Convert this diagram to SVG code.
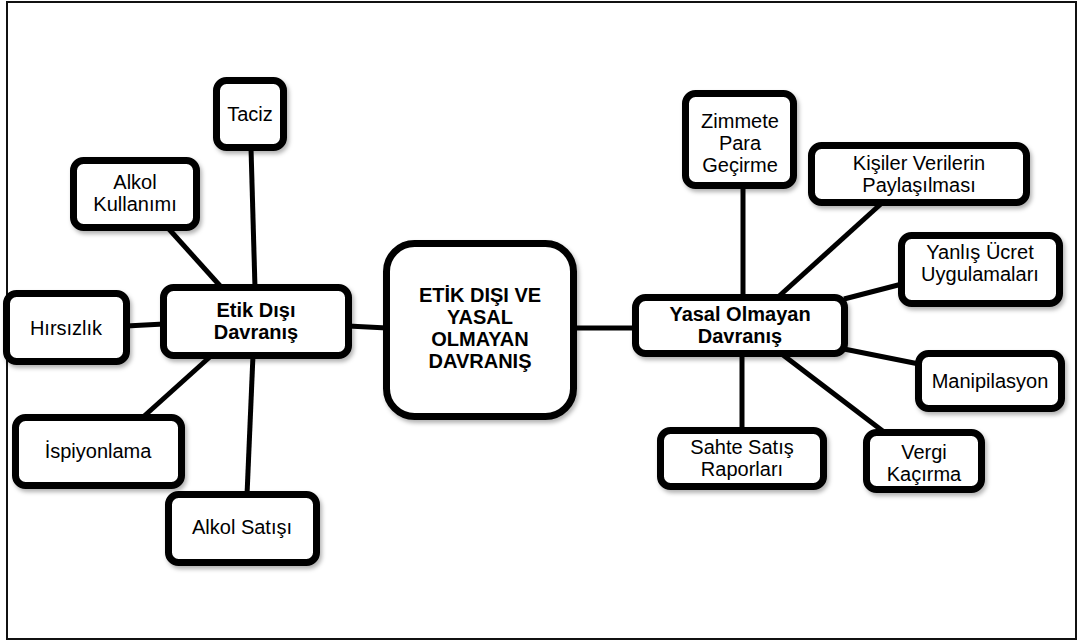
<svg xmlns="http://www.w3.org/2000/svg" width="1079" height="640" viewBox="0 0 1079 640">
  <defs>
    <filter id="sh" x="-20%" y="-20%" width="140%" height="140%">
      <feDropShadow dx="2" dy="3" stdDeviation="2" flood-color="#000" flood-opacity="0.3"/>
    </filter>
    <style>
      .box { fill: #fff; stroke: #000; stroke-width: 7; filter: url(#sh); }
      .conn line { stroke: #000; stroke-width: 5; stroke-linecap: butt; }
      text { font-family: "Liberation Sans", Arial, sans-serif; font-size: 20px; fill: #000; text-anchor: middle; }
      .b { font-weight: bold; }
    </style>
  </defs>
  <rect x="0" y="0" width="1079" height="640" fill="#fff"/>
  <rect x="7" y="2" width="1069" height="637" fill="none" stroke="#111" stroke-width="2"/>

  <g id="connectors" class="conn">
    <line x1="251" y1="148" x2="255" y2="288"/>
    <line x1="168" y1="228" x2="222" y2="288"/>
    <line x1="126" y1="326" x2="164" y2="324"/>
    <line x1="348" y1="326" x2="387" y2="328"/>
    <line x1="212" y1="355" x2="142" y2="418"/>
    <line x1="253" y1="355" x2="247" y2="495"/>
    <line x1="573" y1="328" x2="636" y2="328"/>
    <line x1="743" y1="186" x2="743" y2="298"/>
    <line x1="883" y1="202" x2="777" y2="298"/>
    <line x1="902" y1="284" x2="844" y2="299"/>
    <line x1="844" y1="349" x2="919" y2="364"/>
    <line x1="742" y1="353" x2="742" y2="431"/>
    <line x1="783" y1="355" x2="884" y2="432"/>
  </g>

  <g id="n-taciz"><rect class="box" x="216.5" y="80.5" width="67" height="67" rx="10"/><text x="250" y="121">Taciz</text></g>
  <g id="n-alkol-kullanimi"><rect class="box" x="73.5" y="160.5" width="123" height="67" rx="10"/><text x="135" y="189">Alkol</text><text x="135" y="211">Kullanımı</text></g>
  <g id="n-hirsizlik"><rect class="box" x="6.5" y="293.5" width="120" height="68" rx="10"/><text x="66" y="335">Hırsızlık</text></g>
  <g id="n-etik"><rect class="box" x="163.5" y="287.5" width="185" height="68" rx="10"/><text class="b" x="256" y="317">Etik Dışı</text><text class="b" x="256" y="339">Davranış</text></g>
  <g id="n-center"><rect class="box" x="386.5" y="243.5" width="187" height="173" rx="28"/><text class="b" x="480" y="301.5">ETİK DIŞI VE</text><text class="b" x="480" y="323.5">YASAL</text><text class="b" x="480" y="345.5">OLMAYAN</text><text class="b" x="480" y="367.5">DAVRANIŞ</text></g>
  <g id="n-ispiyonlama"><rect class="box" x="15.5" y="417.5" width="166" height="68" rx="10"/><text x="98" y="458">İspiyonlama</text></g>
  <g id="n-alkol-satisi"><rect class="box" x="168.5" y="494.5" width="148" height="68" rx="10"/><text x="242" y="534">Alkol Satışı</text></g>

  <g id="n-yasal"><rect class="box" x="635.5" y="297.5" width="209" height="56" rx="10"/><text class="b" x="740" y="320.5">Yasal Olmayan</text><text class="b" x="740" y="342.5">Davranış</text></g>
  <g id="n-zimmete"><rect class="box" x="685.5" y="93.5" width="108" height="92" rx="10"/><text x="740" y="127.5">Zimmete</text><text x="740" y="149.5">Para</text><text x="740" y="171.5">Geçirme</text></g>
  <g id="n-kisiler"><rect class="box" x="811.5" y="145.5" width="215" height="57" rx="10"/><text x="919" y="170">Kişiler Verilerin</text><text x="919" y="192">Paylaşılması</text></g>
  <g id="n-yanlis"><rect class="box" x="901.5" y="235.5" width="158" height="68" rx="10"/><text x="980" y="259">Yanlış Ücret</text><text x="980" y="281">Uygulamaları</text></g>
  <g id="n-manipilasyon"><rect class="box" x="918.5" y="353.5" width="143" height="55" rx="10"/><text x="990" y="388">Manipilasyon</text></g>
  <g id="n-sahte"><rect class="box" x="660.5" y="430.5" width="163" height="56" rx="10"/><text x="742" y="454">Sahte Satış</text><text x="742" y="476">Raporları</text></g>
  <g id="n-vergi"><rect class="box" x="866.5" y="432.5" width="115" height="57" rx="10"/><text x="924" y="459">Vergi</text><text x="924" y="481">Kaçırma</text></g>
</svg>
